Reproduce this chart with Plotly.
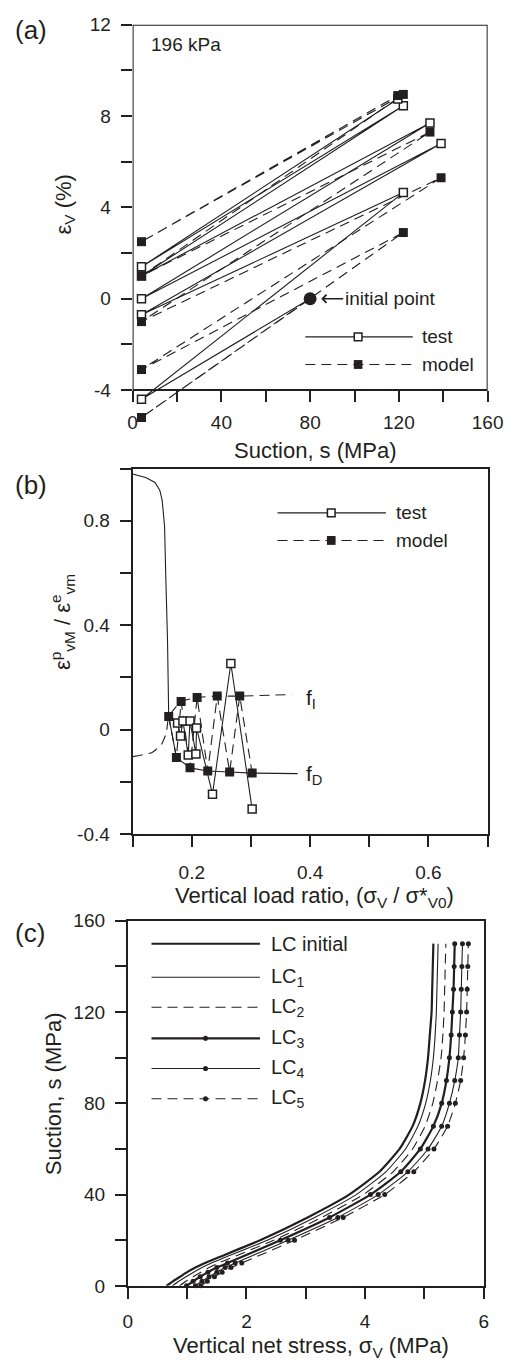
import plotly.graph_objects as go

W, H = 519, 1371
FONT = "Liberation Sans, Arial, sans-serif"
INK = "#231f20"

# ---------------- Panel (a): volumetric strain vs suction ----------------
test_s = [80, 4, 122, 4, 139, 4, 134, 4, 122, 4, 119.5]
test_eps = [0.0, -4.4, 4.65, -0.7, 6.8, 0.0, 7.7, 1.0, 8.45, 1.4, 8.75]
model_s = [80, 4, 122, 4, 139, 4, 134, 4, 122, 4, 119.5]
model_eps = [0.0, -5.2, 2.9, -3.1, 5.3, -1.0, 7.3, 1.0, 8.95, 2.5, 8.9]
init_s = [80]
init_eps = [0.0]
a_xticks = [0, 20, 40, 60, 80, 100, 120, 140, 160]
a_xlabels = ["0", "", "40", "", "80", "", "120", "", "160"]
a_yticks = [-4, -2, 0, 2, 4, 6, 8, 10, 12]
a_ylabels = ["-4", "", "0", "", "4", "", "8", "", "12"]

# ---------------- Panel (b): strain ratio vs load ratio ----------------
top_ratio = [0.100, 0.122, 0.138, 0.146, 0.150, 0.154, 0.156, 0.159, 0.161]
top_val = [0.979, 0.966, 0.947, 0.916, 0.878, 0.778, 0.590, 0.340, 0.050]
fD_ratio = [0.161, 0.174, 0.197, 0.227, 0.264, 0.302, 0.379]
fD_val = [0.050, -0.107, -0.147, -0.159, -0.163, -0.167, -0.169]
fI_ratio = [0.100, 0.133, 0.149, 0.157, 0.161, 0.182, 0.209, 0.243, 0.281, 0.369]
fI_val = [-0.104, -0.088, -0.056, -0.013, 0.050, 0.107, 0.123, 0.128, 0.128, 0.134]
zig_model_ratio = [0.161, 0.174, 0.182, 0.197, 0.209, 0.227, 0.243, 0.264, 0.281, 0.302]
zig_model_val = [0.050, -0.107, 0.107, -0.147, 0.123, -0.159, 0.128, -0.163, 0.128, -0.167]
zig_test_ratio = [0.176, 0.181, 0.185, 0.194, 0.197, 0.207, 0.208, 0.235, 0.266, 0.302]
zig_test_val = [0.025, -0.025, 0.033, -0.098, 0.033, -0.094, 0.006, -0.248, 0.253, -0.305]
b_xticks = [0.1, 0.2, 0.3, 0.4, 0.5, 0.6, 0.7]
b_xlabels = ["", "0.2", "", "0.4", "", "0.6", ""]
b_yticks = [-0.4, -0.2, 0.0, 0.2, 0.4, 0.6, 0.8, 1.0]
b_ylabels = ["-0.4", "", "0", "", "0.4", "", "0.8", ""]

# ---------------- Panel (c): LC yield curves ----------------
suction = [0, 2, 4, 6, 8, 10, 20, 30, 40, 50, 60, 70, 80, 90, 100, 110, 120, 130, 140, 150]
LC_initial = [0.65, 0.76, 0.88, 1.00, 1.14, 1.30, 2.23, 3.03, 3.73, 4.24, 4.58, 4.80, 4.93, 5.01, 5.06, 5.09, 5.12, 5.13, 5.14, 5.15]
LC_1 = [0.75, 0.86, 0.98, 1.11, 1.25, 1.41, 2.35, 3.15, 3.85, 4.35, 4.68, 4.89, 5.02, 5.10, 5.15, 5.18, 5.20, 5.21, 5.22, 5.23]
LC_2 = [0.87, 0.98, 1.10, 1.23, 1.37, 1.53, 2.46, 3.27, 3.97, 4.47, 4.80, 5.01, 5.14, 5.22, 5.28, 5.31, 5.33, 5.34, 5.35, 5.36]
LC_3 = [0.99, 1.10, 1.22, 1.35, 1.50, 1.68, 2.57, 3.40, 4.09, 4.60, 4.93, 5.15, 5.29, 5.37, 5.42, 5.45, 5.47, 5.49, 5.50, 5.51]
LC_4 = [1.14, 1.25, 1.37, 1.50, 1.64, 1.81, 2.70, 3.54, 4.22, 4.72, 5.06, 5.29, 5.42, 5.51, 5.57, 5.59, 5.61, 5.62, 5.63, 5.64]
LC_5 = [1.23, 1.34, 1.46, 1.59, 1.74, 1.92, 2.81, 3.63, 4.33, 4.82, 5.16, 5.39, 5.52, 5.61, 5.66, 5.69, 5.71, 5.72, 5.73, 5.74]
c_xticks = [0, 1, 2, 3, 4, 5, 6]
c_xlabels = ["0", "", "2", "", "4", "", "6"]
c_yticks = [0, 20, 40, 60, 80, 100, 120, 140, 160]
c_ylabels = ["0", "", "40", "", "80", "", "120", "", "160"]


def px(x):
    return x / W


def py(y):
    return 1 - y / H


DASH = "10px,6px"
fig = go.Figure()

# ---- panel (a) traces
fig.add_trace(go.Scatter(x=test_s, y=test_eps, mode="lines", line=dict(color=INK, width=1.1),
                         xaxis="x", yaxis="y", showlegend=False))
fig.add_trace(go.Scatter(x=model_s, y=model_eps, mode="lines", line=dict(color=INK, width=1.1, dash=DASH),
                         xaxis="x", yaxis="y", showlegend=False))
fig.add_trace(go.Scatter(x=test_s[1:], y=test_eps[1:], mode="markers", cliponaxis=False,
                         marker=dict(symbol="square", size=8, color="white", line=dict(color=INK, width=1.5)),
                         xaxis="x", yaxis="y", showlegend=False))
fig.add_trace(go.Scatter(x=model_s[1:], y=model_eps[1:], mode="markers", cliponaxis=False,
                         marker=dict(symbol="square", size=9, color=INK, line=dict(width=0)),
                         xaxis="x", yaxis="y", showlegend=False))
fig.add_trace(go.Scatter(x=init_s, y=init_eps, mode="markers", cliponaxis=False,
                         marker=dict(symbol="circle", size=13, color=INK, line=dict(width=0)),
                         xaxis="x", yaxis="y", showlegend=False))

# ---- panel (b) traces
fig.add_trace(go.Scatter(x=top_ratio, y=top_val, mode="lines", line=dict(color=INK, width=1.1),
                         xaxis="x2", yaxis="y2", showlegend=False))
fig.add_trace(go.Scatter(x=fI_ratio, y=fI_val, mode="lines", line=dict(color=INK, width=1.1, dash=DASH, shape="spline", smoothing=0.4),
                         xaxis="x2", yaxis="y2", showlegend=False))
fig.add_trace(go.Scatter(x=zig_model_ratio, y=zig_model_val, mode="lines", line=dict(color=INK, width=1.1, dash=DASH),
                         xaxis="x2", yaxis="y2", showlegend=False))
fig.add_trace(go.Scatter(x=fD_ratio, y=fD_val, mode="lines", line=dict(color=INK, width=1.1),
                         xaxis="x2", yaxis="y2", showlegend=False))
fig.add_trace(go.Scatter(x=zig_test_ratio, y=zig_test_val, mode="lines+markers", cliponaxis=False,
                         line=dict(color=INK, width=1.1),
                         marker=dict(symbol="square", size=8, color="white", line=dict(color=INK, width=1.5)),
                         xaxis="x2", yaxis="y2", showlegend=False))
fig.add_trace(go.Scatter(x=fI_ratio[4:9] + fD_ratio[1:6], y=fI_val[4:9] + fD_val[1:6], mode="markers",
                         marker=dict(symbol="square", size=9, color=INK, line=dict(width=0)),
                         xaxis="x2", yaxis="y2", showlegend=False))

# ---- panel (c) traces
lc_styles = [
    (LC_initial, 2.2, "solid", False),
    (LC_1, 1.1, "solid", False),
    (LC_2, 1.1, DASH, False),
    (LC_3, 2.2, "solid", True),
    (LC_4, 1.1, "solid", True),
    (LC_5, 1.1, DASH, True),
]
for xs, w, d, dots in lc_styles:
    fig.add_trace(go.Scatter(x=xs, y=suction, mode="lines+markers" if dots else "lines", cliponaxis=False,
                             line=dict(color=INK, width=w, dash=d, shape="spline", smoothing=0.5),
                             marker=dict(symbol="circle", size=5, color=INK),
                             xaxis="x3", yaxis="y3", showlegend=False))

tickfont = dict(family=FONT, size=19, color=INK)
common = dict(ticks="outside", ticklen=11, tickwidth=2, tickcolor=INK, linecolor=INK, linewidth=2,
              showgrid=False, zeroline=False, tickfont=tickfont, ticklabelstandoff=6)

# Panel (a) geometry: plot from y=12 at px 15 to y=-4 at px 386; extended down to show marks below
a_top, a_bot_axis = 15, 386
a_scale = (a_bot_axis - a_top) / 16.0
a_ymin = -5.5
a_bot = a_top + (12 - a_ymin) * a_scale

layout = dict(
    width=W, height=H, margin=dict(l=0, r=0, t=0, b=0),
    paper_bgcolor="white", plot_bgcolor="rgba(0,0,0,0)",
    font=dict(family=FONT, color=INK, size=19),
    xaxis=dict(domain=[px(133), px(503)], range=[0, 160], tickvals=a_xticks, ticktext=a_xlabels,
               anchor="free", position=py(a_bot_axis), showline=False, **common),
    yaxis=dict(domain=[py(a_bot), py(a_top)], range=[a_ymin, 12], tickvals=a_yticks, ticktext=a_ylabels,
               anchor="x", showline=False, **common),
    xaxis2=dict(domain=[px(133), px(503)], range=[0.1, 0.7], tickvals=b_xticks, ticktext=b_xlabels,
                anchor="y2", showline=True, mirror=True, **common),
    yaxis2=dict(domain=[py(836.7), py(465.7)], range=[-0.4, 1.0], tickvals=b_yticks, ticktext=b_ylabels,
                anchor="x2", showline=True, mirror=True, **common),
    xaxis3=dict(domain=[px(128), px(499)], range=[0, 6], tickvals=c_xticks, ticktext=c_xlabels,
                anchor="y3", showline=True, mirror=True, **common),
    yaxis3=dict(domain=[py(1295.7), py(925)], range=[0, 160], tickvals=c_yticks, ticktext=c_ylabels,
                anchor="x3", showline=True, mirror=True, **common),
)
layout["xaxis"]["ticklabelstandoff"] = 4
layout["xaxis2"]["ticklabelstandoff"] = 9
layout["xaxis3"]["ticklabelstandoff"] = 6
fig.update_layout(**layout)

shapes = []
# frame of panel (a)
shapes.append(dict(type="rect", xref="x", yref="y", x0=0, x1=160, y0=-4, y1=12,
                   line=dict(color=INK, width=2), layer="above"))


def leg_line(x0, x1, y, dash="solid", width=1.1):
    shapes.append(dict(type="line", xref="paper", yref="paper", x0=px(x0), x1=px(x1), y0=py(y), y1=py(y),
                       line=dict(color=INK, width=width, dash=dash)))


def leg_square(cx, cy, filled, s=8):
    shapes.append(dict(type="rect", xref="paper", yref="paper", x0=px(cx - s / 2), x1=px(cx + s / 2),
                       y0=py(cy + s / 2), y1=py(cy - s / 2),
                       fillcolor=INK if filled else "white", line=dict(color=INK, width=0 if filled else 1.5)))


def leg_dot(cx, cy, r=2.6):
    shapes.append(dict(type="circle", xref="paper", yref="paper", x0=px(cx - r), x1=px(cx + r),
                       y0=py(cy + r), y1=py(cy - r), fillcolor=INK, line=dict(color=INK, width=0)))


annotations = []


def text(x, y, t, size=19, xanchor="left", angle=0):
    annotations.append(dict(x=px(x), y=py(y), xref="paper", yref="paper", text=t, showarrow=False,
                            xanchor=xanchor, yanchor="middle", textangle=angle,
                            font=dict(family=FONT, size=size, color=INK)))


# legend (a)
leg_line(313, 425, 332)
leg_square(368, 332, False)
text(433, 332, "test")
leg_line(313, 425, 360, DASH)
leg_square(368, 360, True, 9)
text(433, 360, "model")
# legend (b)
leg_line(284, 397, 510.7)
leg_square(340, 510.7, False)
text(405, 510.7, "test")
leg_line(284, 397, 538.7, DASH)
leg_square(340, 538.7, True, 9)
text(405, 538.7, "model")
# legend (c)
lc_leg_y = [948.3, 982.3, 1012.7, 1044.3, 1075.0, 1105.7]
lc_names = ["LC initial", "LC<sub>1</sub>", "LC<sub>2</sub>", "LC<sub>3</sub>", "LC<sub>4</sub>", "LC<sub>5</sub>"]
for (xs, w, d, dots), yy, name in zip(lc_styles, lc_leg_y, lc_names):
    leg_line(152.7, 265.7, yy, d, w)
    if dots:
        leg_dot(209, yy)
    text(275, yy, name, size=20)

# panel labels
text(8, 20, "(a)", size=26)
text(8, 482, "(b)", size=26)
text(8, 937, "(c)", size=26)
# in-panel texts
text(150, 35, "196 kPa")
text(312, 700, "f<sub>I</sub>", size=21)
text(312, 777, "f<sub>D</sub>", size=21)
annotations.append(dict(x=85, y=0, xref="x", yref="y", ax=22, ay=0, axref="pixel", ayref="pixel",
                        text="initial point", showarrow=True, arrowhead=4, arrowsize=1.2, arrowwidth=1.3,
                        arrowcolor=INK, xanchor="left", yanchor="middle",
                        font=dict(family=FONT, size=19, color=INK)))
# axis titles
text(324, 447, "Suction, s (MPa)", size=22, xanchor="center")
text(62, 197, "ε<sub>V</sub> (%)", size=22, xanchor="center", angle=-90)
text(323, 901, "Vertical load ratio, (σ<sub>V</sub> / σ*<sub>V0</sub>)", size=22, xanchor="center")
text(60, 622, "ε<sup>p</sup><sub>vM</sub> / ε<sup>e</sup><sub>vm</sub>", size=22, xanchor="center", angle=-90)
text(319, 1358, "Vertical net stress, σ<sub>V</sub> (MPa)", size=22, xanchor="center")
text(50, 1100, "Suction, s (MPa)", size=22, xanchor="center", angle=-90)

fig.update_layout(shapes=shapes, annotations=annotations)
fig.write_html("out.html")
